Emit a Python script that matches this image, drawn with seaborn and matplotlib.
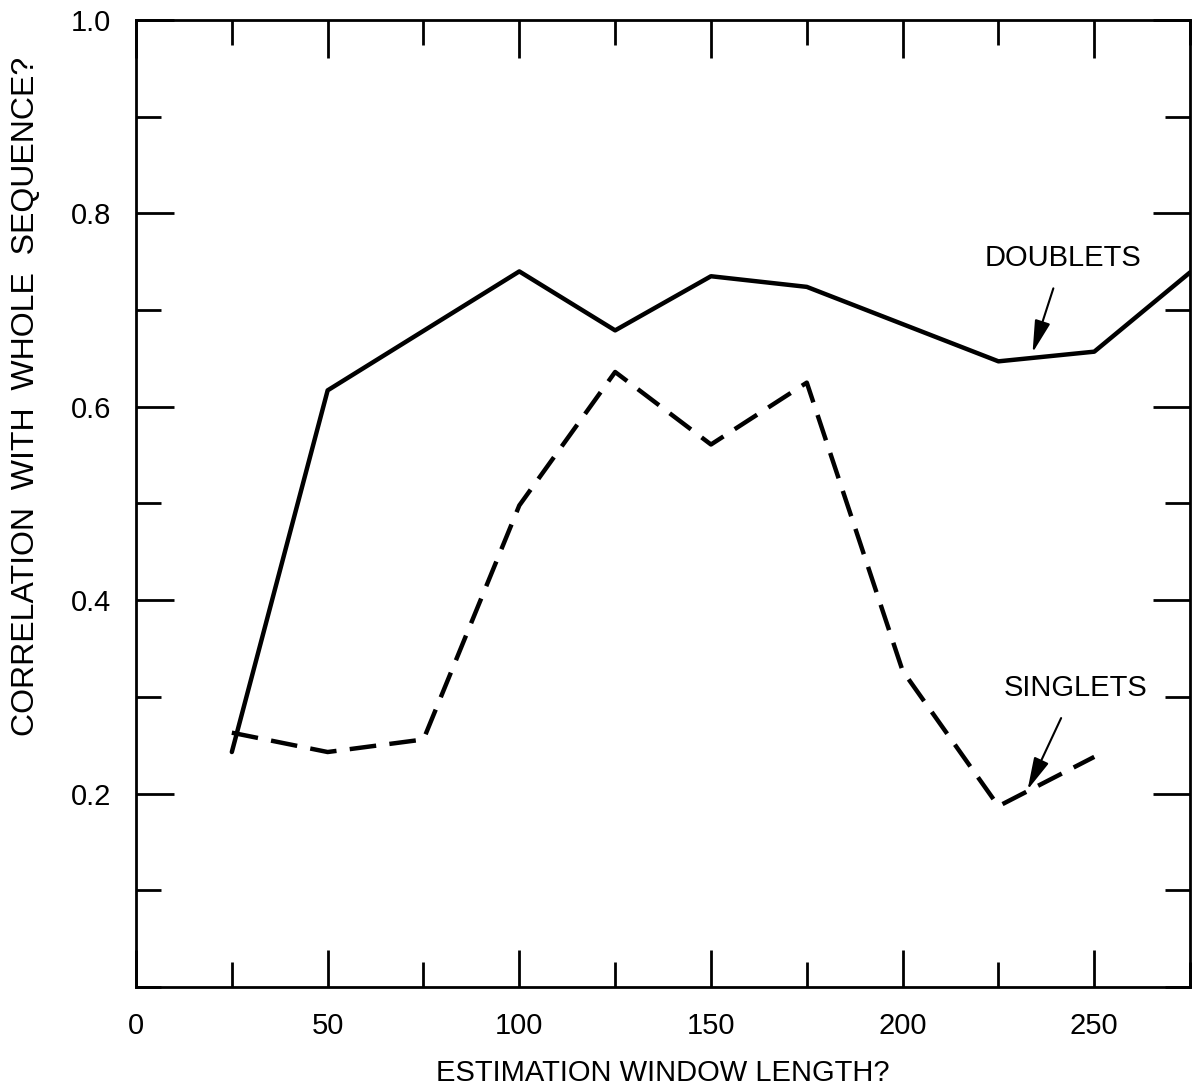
import matplotlib
matplotlib.use("Agg")
import matplotlib.pyplot as plt
import seaborn as sns
import numpy as np
import pandas as pd
from matplotlib.ticker import MultipleLocator

# window lengths and correlations
window_doublets = [25, 50, 100, 125, 150, 175, 225, 250, 275]
corr_doublets = [0.243, 0.617, 0.740, 0.679, 0.735, 0.724, 0.647, 0.657, 0.739]

window_singlets = [25, 50, 75, 100, 125, 150, 175, 200, 225, 250]
corr_singlets = [0.263, 0.243, 0.256, 0.498, 0.636, 0.561, 0.625, 0.327, 0.187, 0.238]

x_ticklabels = ["0", "50", "100", "150", "200", "250"]
y_ticklabels = ["0.2", "0.4", "0.6", "0.8", "1.0"]

df_d = pd.DataFrame({"window": window_doublets, "corr": corr_doublets})
df_s = pd.DataFrame({"window": window_singlets, "corr": corr_singlets})

sns.set_style("white")
plt.rcParams["font.family"] = ["Liberation Sans", "DejaVu Sans"]
plt.rcParams["text.color"] = "black"
plt.rcParams["axes.labelcolor"] = "black"
plt.rcParams["xtick.labelcolor"] = "black"
plt.rcParams["ytick.labelcolor"] = "black"

fig = plt.figure(figsize=(11.92, 10.91), dpi=100)
ax = fig.add_axes([0.1141, 0.0953, 0.8843, 0.8864])

sns.lineplot(data=df_d, x="window", y="corr", ax=ax, color="black",
             linewidth=3.2, linestyle="-")
sns.lineplot(data=df_s, x="window", y="corr", ax=ax, color="black",
             linewidth=3.2)
ax.lines[-1].set_dashes([6, 3])

ax.set_xlim(0, 275)
ax.set_ylim(0, 1.0)

ax.xaxis.set_minor_locator(MultipleLocator(25))
ax.yaxis.set_minor_locator(MultipleLocator(0.1))
ax.set_xticks([0, 50, 100, 150, 200, 250])
ax.set_xticklabels(x_ticklabels)
ax.set_yticks([0.2, 0.4, 0.6, 0.8, 1.0])
ax.set_yticklabels(y_ticklabels)

ax.tick_params(which="both", direction="in", top=True, right=True,
               bottom=True, left=True, color="black", width=2)
ax.tick_params(which="major", length=27, labelsize=21, pad=18)
ax.tick_params(which="minor", length=18)

for sp in ax.spines.values():
    sp.set_color("black")
    sp.set_linewidth(2)

ax.set_xlabel("ESTIMATION WINDOW LENGTH?", fontsize=21, labelpad=14)
ax.set_ylabel("CORRELATION  WITH  WHOLE  SEQUENCE?", fontsize=23)
ax.yaxis.set_label_coords(-0.09, 0.611)

arrow = dict(arrowstyle="-|>,head_length=0.9,head_width=0.22", color="black",
             lw=1.5, shrinkA=10, shrinkB=0, mutation_scale=22)
ax.annotate("DOUBLETS", xy=(233.9, 0.656), xytext=(241.9, 0.754),
            fontsize=21, ha="center", va="center", arrowprops=arrow)
ax.annotate("SINGLETS", xy=(232.6, 0.204), xytext=(245.0, 0.309),
            fontsize=21, ha="center", va="center", arrowprops=arrow)

fig.savefig("out.png", dpi=100)
